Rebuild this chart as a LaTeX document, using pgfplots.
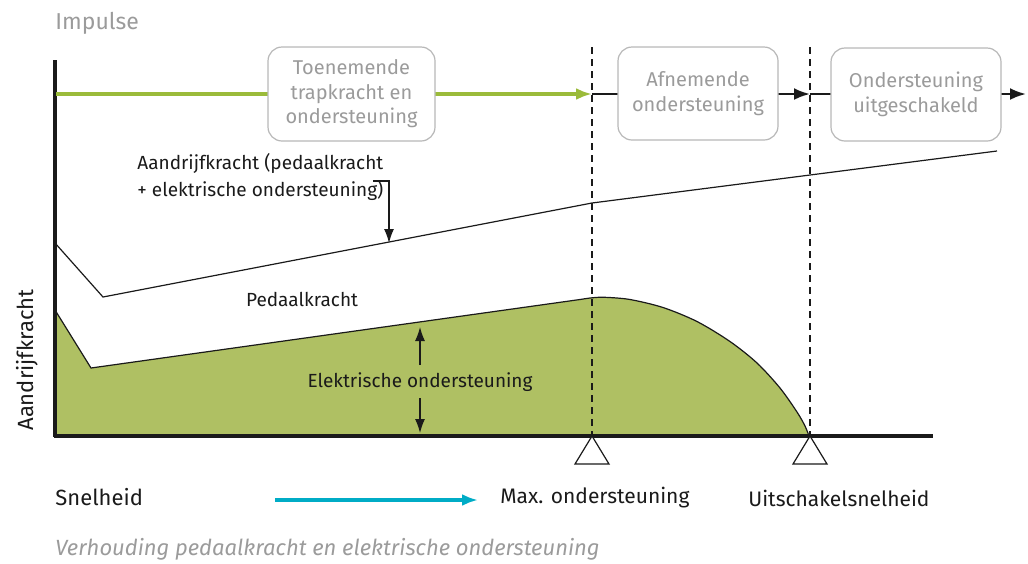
\documentclass[border=0pt]{standalone}
\usepackage{pgfplots}
\pgfplotsset{compat=1.18}
\usepackage{fontspec}
\setmainfont{Fira Sans}
\usetikzlibrary{arrows.meta}
\definecolor{greenfill}{HTML}{AFC063}
\definecolor{greenline}{HTML}{9BBB3A}
\definecolor{cyanline}{HTML}{00ACC6}
\definecolor{greytext}{HTML}{9B9B9B}
\definecolor{boxline}{HTML}{B8B8B8}
\definecolor{ink}{HTML}{1A1A1A}
\begin{document}
\begin{tikzpicture}
\begin{axis}[
  scale only axis,
  width=514pt, height=281.5pt,
  xmin=0, xmax=1028, ymin=0, ymax=563,
  y dir=reverse,
  hide axis,
  clip=false,
]
% electric support: straight part and rounded fall-off
\addplot[fill=greenfill, draw=none] coordinates {
  (55,436) (55,310) (91,368) (581,299.5) (581,436)
} -- cycle;
\addplot[fill=greenfill, draw=none, smooth] coordinates {
  (580,299.5) (592,297.8) (605,297.3) (630,299.5) (663,307.5) (697,321.5)
  (730,341.5) (757,363) (780,388) (797,412) (805,426) (809,436)
} -- (axis cs:580,436) -- cycle;
\addplot[ink, line width=0.6pt] coordinates {(55,310) (91,368) (580,299.5)};
\addplot[ink, line width=0.6pt, smooth] coordinates {
  (580,299.5) (592,297.8) (605,297.3) (630,299.5) (663,307.5) (697,321.5)
  (730,341.5) (757,363) (780,388) (797,412) (805,426) (809,436)
};
% total drive force
\addplot[ink, line width=0.6pt] coordinates {(55,243) (103,297) (592,203) (997,151)};
% axes
\addplot[ink, line width=1.6pt] coordinates {(55,60) (55,437)};
\addplot[ink, line width=1.6pt] coordinates {(54,436) (933,436)};
% dashed markers
\addplot[ink, line width=1.3pt, dash pattern=on 3.5pt off 2.5pt] coordinates {(592,47) (592,436)};
\addplot[ink, line width=1.3pt, dash pattern=on 3.5pt off 2.5pt] coordinates {(810,47) (810,436)};
% triangles
\addplot[fill=white, draw=ink, line width=0.6pt] coordinates {(592,436) (575,464) (609,464)} -- cycle;
\addplot[fill=white, draw=ink, line width=0.6pt] coordinates {(810,436) (793,464) (827,464)} -- cycle;
% impulse line
\addplot[greenline, line width=1.6pt] coordinates {(56,94) (268,94)};
\addplot[greenline, line width=1.6pt, -{Latex[length=8pt,width=6pt]}] coordinates {(435,94) (592,94)};
\addplot[ink, line width=1.2pt] coordinates {(592,94) (618,94)};
\addplot[ink, line width=1.2pt, -{Latex[length=8pt,width=6pt]}] coordinates {(778,94) (810,94)};
\addplot[ink, line width=1.2pt] coordinates {(810,94) (831,94)};
\addplot[ink, line width=1.2pt, -{Latex[length=8pt,width=6pt]}] coordinates {(1001,94) (1026,94)};
% pointer arrows
\addplot[ink, line width=0.6pt, -{Latex[length=7pt,width=5pt]}] coordinates {(373,181) (389,181) (389,243)};
\addplot[ink, line width=0.6pt, -{Latex[length=7pt,width=5pt]}] coordinates {(420,365) (420,327)};
\addplot[ink, line width=0.6pt, -{Latex[length=7pt,width=5pt]}] coordinates {(420,398) (420,433)};
% speed arrow
\addplot[cyanline, line width=1.6pt, -{Latex[length=8pt,width=6pt]}] coordinates {(275,500) (478,500)};

% boxes
\tikzset{phase/.style={draw=boxline, line width=0.6pt, rounded corners=7pt, fill=white,
  text=greytext, align=center, inner sep=0pt, font=\fontsize{10}{12.2}\selectfont}}
\node[phase, minimum width=83.5pt, minimum height=47pt] at (axis cs:351.5,94) {Toenemende\\trapkracht en\\ondersteuning};
\node[phase, minimum width=80pt, minimum height=46.5pt] at (axis cs:698,93.5) {Afnemende\\ondersteuning};
\node[phase, minimum width=85pt, minimum height=46.5pt] at (axis cs:916,94.5) {Ondersteuning\\uitgeschakeld};

% labels
\node[anchor=west, text=greytext, font=\fontsize{11.5}{13}\selectfont, inner sep=0pt] at (axis cs:55,23) {Impulse};
\node[anchor=north west, text=ink, align=left, inner sep=0pt, font=\fontsize{9.5}{13.5}\selectfont] at (axis cs:137,153) {Aandrijfkracht (pedaalkracht\\+ elektrische ondersteuning)};
\node[text=ink, inner sep=0pt, font=\fontsize{9.5}{11}\selectfont] at (axis cs:302,299) {Pedaalkracht};
\node[text=ink, inner sep=0pt, font=\fontsize{9.5}{11}\selectfont] at (axis cs:420,382) {Elektrische ondersteuning};
\node[rotate=90, text=ink, inner sep=0pt, font=\fontsize{11}{13}\selectfont] at (axis cs:27,360) {Aandrijfkracht};
\node[anchor=west, text=ink, inner sep=0pt, font=\fontsize{11}{13}\selectfont] at (axis cs:55,497) {Snelheid};
\node[anchor=west, text=ink, inner sep=0pt, font=\fontsize{10.5}{13}\selectfont] at (axis cs:500,498) {Max. ondersteuning};
\node[anchor=west, text=ink, inner sep=0pt, font=\fontsize{10.5}{13}\selectfont] at (axis cs:748,498) {Uitschakelsnelheid};
\node[anchor=west, text=greytext, inner sep=0pt, font=\fontsize{11}{13}\selectfont\itshape] at (axis cs:55,549) {Verhouding pedaalkracht en elektrische ondersteuning};
\end{axis}
\pgfresetboundingbox
\path (current axis.south west) rectangle (current axis.north east);
\end{tikzpicture}
\end{document}
